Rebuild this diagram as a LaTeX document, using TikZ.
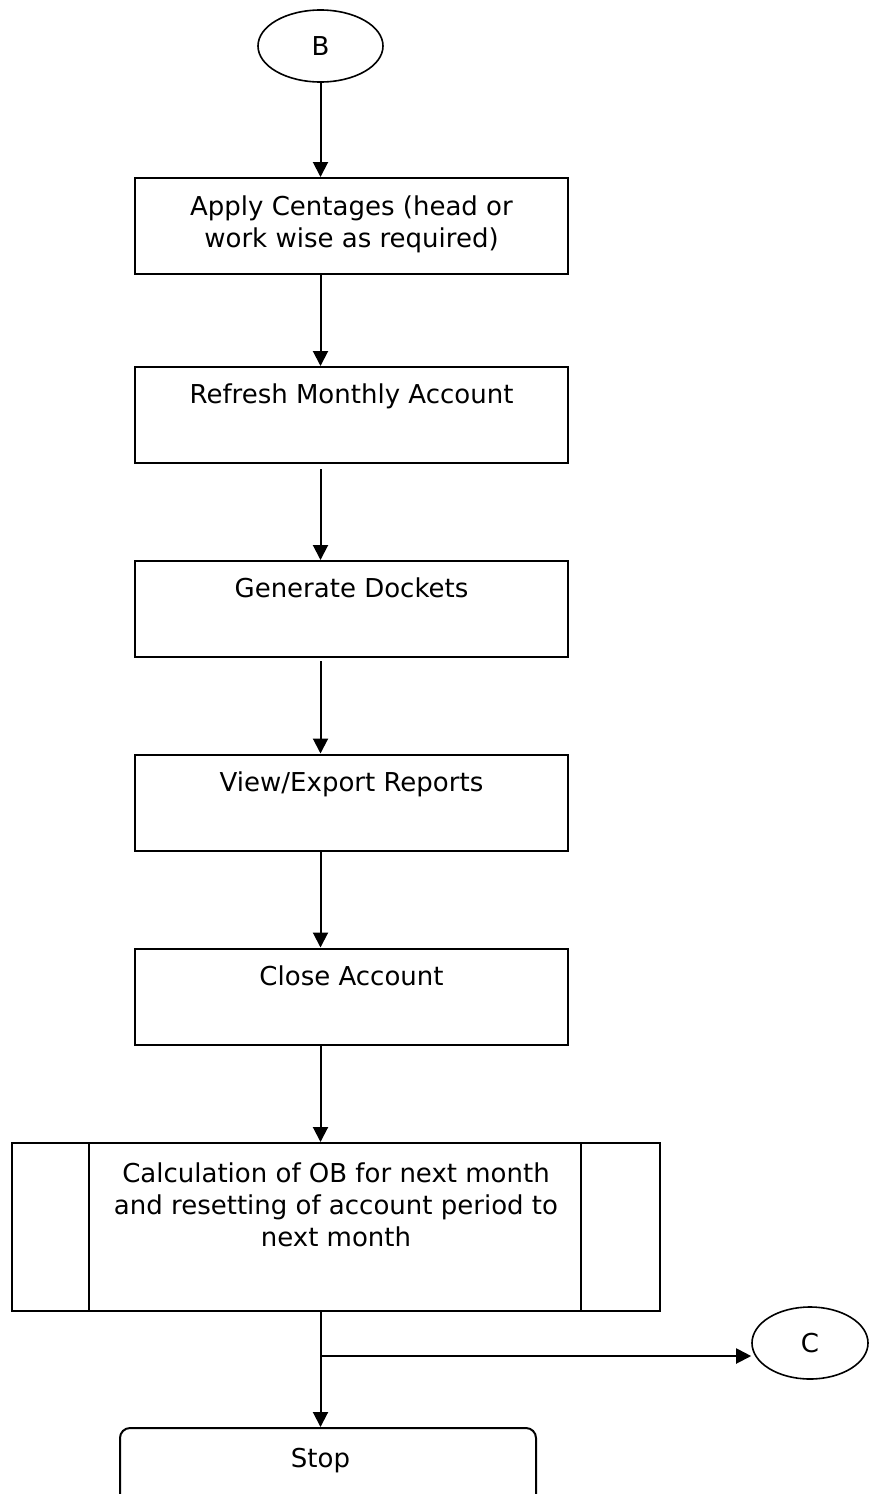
\documentclass[tikz,border=0pt]{standalone}
\usepackage{fontspec}
\setmainfont{DejaVu Sans}
\usetikzlibrary{positioning,shapes.geometric,arrows.meta}

\tikzset{
  flowbox/.style={draw, line width=2pt, rectangle, minimum width=433pt, minimum height=96pt, inner sep=0pt},
  flowtext/.style={anchor=north, align=center, inner sep=0pt, font=\fontsize{26}{32}\selectfont},
  pageref/.style={draw, line width=1.6pt, ellipse, inner sep=0pt, font=\fontsize{26}{32}\selectfont},
  terminal/.style={draw, line width=2pt, rectangle, rounded corners=10pt, minimum width=416pt, minimum height=82pt, inner sep=0pt},
  flowarrow/.style={line width=2pt, -{Triangle[length=15pt,width=15pt]}}
}

\begin{document}
\begin{tikzpicture}[x=1pt, y=-1pt]
		\useasboundingbox (0,0) rectangle (869,1494);

		% Off-page connector at the top
		\node[pageref, minimum width=125pt, minimum height=72pt] (B) at (320.5,46) {B};

		% Process boxes
		\node[flowbox] (apply) at (351.5,226) {};
		\node[flowtext] (applytext) at ([yshift=-19pt]apply.north) {Apply Centages (head or\\work wise as required)};

		\node[flowbox] (refresh) at (351.5,415) {};
		\node[flowtext] (refreshtext) at ([yshift=-18pt]refresh.north) {Refresh Monthly Account};

		\node[flowbox] (dockets) at (351.5,609) {};
		\node[flowtext] (docketstext) at ([yshift=-18pt]dockets.north) {Generate Dockets};

		\node[flowbox] (reports) at (351.5,802.5) {};
		\node[flowtext] (reportstext) at ([yshift=-18pt]reports.north) {View/Export Reports};

		\node[flowbox] (close) at (351.5,996.5) {};
		\node[flowtext] (closetext) at ([yshift=-18pt]close.north) {Close Account};

		% Predefined process box
		\node[flowbox, minimum width=648pt, minimum height=168pt] (obcalc) at (336,1227) {};
		\draw[line width=2pt] ([xshift=78pt]obcalc.north west) -- ([xshift=78pt]obcalc.south west);
		\draw[line width=2pt] ([xshift=-80pt]obcalc.north east) -- ([xshift=-80pt]obcalc.south east);
		\node[flowtext] (obcalctext) at ([yshift=-21pt]obcalc.north) {Calculation of OB for next month\\and resetting of account period to\\next month};

		% Off-page connector and end
		\node[pageref, minimum width=116pt, minimum height=72pt] (C) at (810,1343) {C};
		\node[terminal] (stop) at (328,1469) {};
		\node[flowtext] (stoptext) at ([yshift=-21pt]stop.north -| B) {Stop};

		% Arrows down the column
		\draw[flowarrow] (B.south) -- (B.south |- apply.north);
		\draw[flowarrow] (apply.south -| B) -- (refresh.north -| B);
		\draw[flowarrow, shorten <=5pt] (refresh.south -| B) -- (dockets.north -| B);
		\draw[flowarrow, shorten <=3pt] (dockets.south -| B) -- (reports.north -| B);
		\draw[flowarrow] (reports.south -| B) -- (close.north -| B);
		\draw[flowarrow] (close.south -| B) -- (obcalc.north -| B);
		\draw[flowarrow] (obcalc.south -| B) -- (stop.north -| B);

		% Branch to C
		\coordinate (split) at (320.5,1356);
		\draw[flowarrow] (split) -- (split -| C.west);
	\end{tikzpicture}
\end{document}
